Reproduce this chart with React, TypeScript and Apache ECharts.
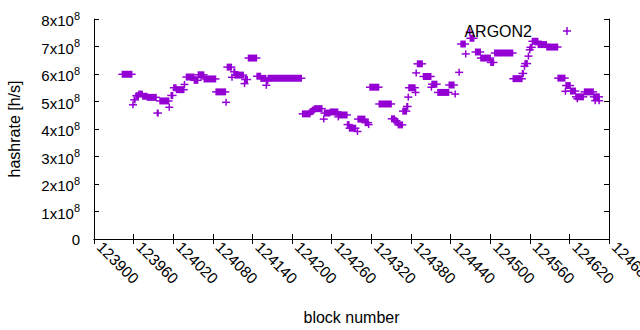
import React, { useEffect, useRef } from "react";
import * as echarts from "echarts";

// Runs of consecutive blocks sharing the same hashrate (first block, last block, hashrate in 1e8 h/s)
const runStart = [
  123943, 123959, 123961, 123964, 123968, 123974, 123981, 123996, 124000, 124014,
  124017, 124021, 124025, 124037, 124040, 124052, 124058, 124067, 124085, 124100,
  124102, 124109, 124112, 124114, 124128, 124129, 124134, 124147, 124153, 124161,
  124162, 124164, 124216, 124228, 124231, 124234, 124248, 124249, 124258, 124270,
  124271, 124284, 124287, 124299, 124300, 124311, 124316, 124318, 124332, 124351,
  124356, 124359, 124361, 124368, 124374, 124376, 124377, 124387, 124388, 124390,
  124399, 124411, 124412, 124421, 124438, 124447, 124453, 124456, 124463, 124469,
  124470, 124478, 124486, 124501, 124507, 124535, 124549, 124552, 124553, 124558,
  124560, 124561, 124564, 124573, 124586, 124603, 124614, 124615, 124622, 124630,
  124632, 124643, 124657, 124659, 124665,
];
const runEnd = [
  123957, 123959, 123962, 123967, 123973, 123980, 123994, 123997, 124013, 124014,
  124019, 124024, 124036, 124037, 124051, 124057, 124066, 124084, 124099, 124100,
  124108, 124109, 124113, 124126, 124128, 124132, 124146, 124152, 124160, 124161,
  124163, 124214, 124227, 124230, 124233, 124245, 124248, 124257, 124269, 124270,
  124283, 124286, 124296, 124299, 124310, 124315, 124316, 124331, 124350, 124355,
  124358, 124360, 124367, 124373, 124375, 124376, 124386, 124387, 124388, 124397,
  124410, 124411, 124419, 124437, 124445, 124447, 124453, 124462, 124463, 124469,
  124475, 124485, 124500, 124505, 124534, 124548, 124550, 124552, 124556, 124558,
  124560, 124563, 124572, 124585, 124602, 124613, 124614, 124621, 124629, 124641,
  124632, 124656, 124665, 124659, 124665,
];
const runHashrate = [
  5.99, 4.88, 5.06, 5.21, 5.27, 5.19, 5.15, 4.58, 5.02, 4.79,
  5.22, 5.5, 5.43, 5.62, 5.89, 5.77, 5.97, 5.82, 5.35, 4.97,
  6.25, 5.88, 6.08, 5.96, 5.65, 5.8, 6.58, 5.92, 5.84, 5.59,
  5.76, 5.85, 4.55, 4.63, 4.69, 4.74, 4.36, 4.58, 4.62, 4.44,
  4.51, 4.16, 4.03, 3.91, 4.36, 4.23, 4.16, 5.52, 4.91, 4.37,
  4.3, 4.23, 4.15, 4.65, 4.82, 5.16, 5.5, 5.33, 6.04, 6.37,
  5.91, 5.52, 5.63, 5.33, 5.6, 5.27, 6.06, 7.09, 6.73, 7.52,
  7.3, 6.8, 6.58, 6.42, 6.76, 5.83, 6.02, 6.28, 6.38, 6.65,
  6.88, 6.97, 7.19, 7.07, 6.98, 5.85, 5.37, 5.58, 5.38, 5.17,
  5.1, 5.35, 5.17, 5.03, 5.03,
];

const xMin = 123900;
const xMax = 124680;
const xStep = 60;
const yMax = 8e8;
const yStep = 1e8;
const seriesName = "ARGON2";
const xTitle = "block number";
const yTitle = "hashrate [h/s]";

const COLOR = "#9400d3";
const FONT = "Liberation Sans";

export default function App() {
  const ref = useRef<HTMLDivElement>(null);
  useEffect(() => {
    document.body.style.margin = "0";
    const chart = echarts.init(ref.current!, null, { renderer: "svg" });
    const data = runStart.map((s, i) => [s, runEnd[i], runHashrate[i] * 1e8]);
    const axisLine = { show: true, lineStyle: { color: "#000", width: 1 } };
    const tick = { show: true, inside: true, length: 5, lineStyle: { color: "#000" } };
    const yFmt = (v: number) => {
      if (v === 0) return "0";
      return `{b|${Math.round(v / 1e8)}x10}{s|8}`;
    };
    const option: any = {
      animation: false,
      grid: { left: 94, right: 31, top: 19, bottom: 91, containLabel: false, outerBoundsMode: "none" },
      legend: {
        data: [
          {
            name: seriesName,
            icon: "path://M3.25,0h1.5v3.25h3.25v1.5h-3.25v3.25h-1.5v-3.25h-3.25v-1.5h3.25z",
          },
        ],
        align: "right",
        right: 69,
        top: 23,
        padding: 0,
        itemWidth: 8,
        itemHeight: 8,
        itemStyle: { color: COLOR },
        textStyle: { fontFamily: FONT, fontSize: 16, color: "#000", padding: [0, 26, 0, 0] },
        selectedMode: false,
      },
      xAxis: [
        {
          type: "value",
          min: xMin,
          max: xMax,
          interval: xStep,
          position: "bottom",
          axisLine,
          axisTick: tick,
          splitLine: { show: false },
          axisLabel: {
            rotate: -45,
            margin: 11,
            align: "left",
            verticalAlign: "bottom",
            color: "#000",
            fontFamily: FONT,
            fontSize: 15.5,
            formatter: (v: number) => String(v),
            hideOverlap: false,
            showMaxLabel: true,
            showMinLabel: true,
          },
          name: xTitle,
          nameLocation: "middle",
          nameGap: 70,
          nameTextStyle: { color: "#000", fontFamily: FONT, fontSize: 16 },
        },
        {
          type: "value",
          min: xMin,
          max: xMax,
          interval: xStep,
          position: "top",
          axisLine,
          axisTick: tick,
          splitLine: { show: false },
          axisLabel: { show: false },
        },
      ],
      yAxis: [
        {
          type: "value",
          min: 0,
          max: yMax,
          interval: yStep,
          position: "left",
          axisLine,
          axisTick: tick,
          splitLine: { show: false },
          axisLabel: {
            margin: 14,
            color: "#000",
            formatter: yFmt,
            fontFamily: FONT,
            fontSize: 15,
            rich: {
              b: { fontFamily: FONT, fontSize: 15, color: "#000", lineHeight: 18, verticalAlign: "bottom" },
              s: { fontFamily: FONT, fontSize: 11, color: "#000", lineHeight: 18, verticalAlign: "top" },
            },
          },
          name: yTitle,
          nameLocation: "middle",
          nameGap: 72,
          nameRotate: 90,
          nameTextStyle: { color: "#000", fontFamily: FONT, fontSize: 16 },
        },
        {
          type: "value",
          min: 0,
          max: yMax,
          interval: yStep,
          position: "right",
          axisLine,
          axisTick: tick,
          splitLine: { show: false },
          axisLabel: { show: false },
        },
      ],
      series: [
        {
          type: "custom",
          name: seriesName,
          xAxisIndex: 0,
          yAxisIndex: 0,
          itemStyle: { color: COLOR },
          encode: { x: [0, 1], y: 2 },
          data,
          silent: true,
          renderItem: (_params: any, api: any) => {
            const y = api.value(2);
            const a = api.coord([api.value(0), y]);
            const b = api.coord([api.value(1), y]);
            const x0 = a[0];
            const x1 = b[0];
            const cy = a[1];
            return {
              type: "group",
              children: [
                {
                  type: "rect",
                  shape: { x: x0 - 0.75, y: cy - 3.5, width: x1 - x0 + 1.5, height: 7 },
                  style: { fill: COLOR },
                },
                {
                  type: "rect",
                  shape: { x: x0 - 4, y: cy - 0.75, width: x1 - x0 + 8, height: 1.5 },
                  style: { fill: COLOR },
                },
              ],
            };
          },
        },
      ],
    };
    chart.setOption(option);
    return () => chart.dispose();
  }, []);
  return <div ref={ref} style={{ width: 640, height: 330 }} />;
}
